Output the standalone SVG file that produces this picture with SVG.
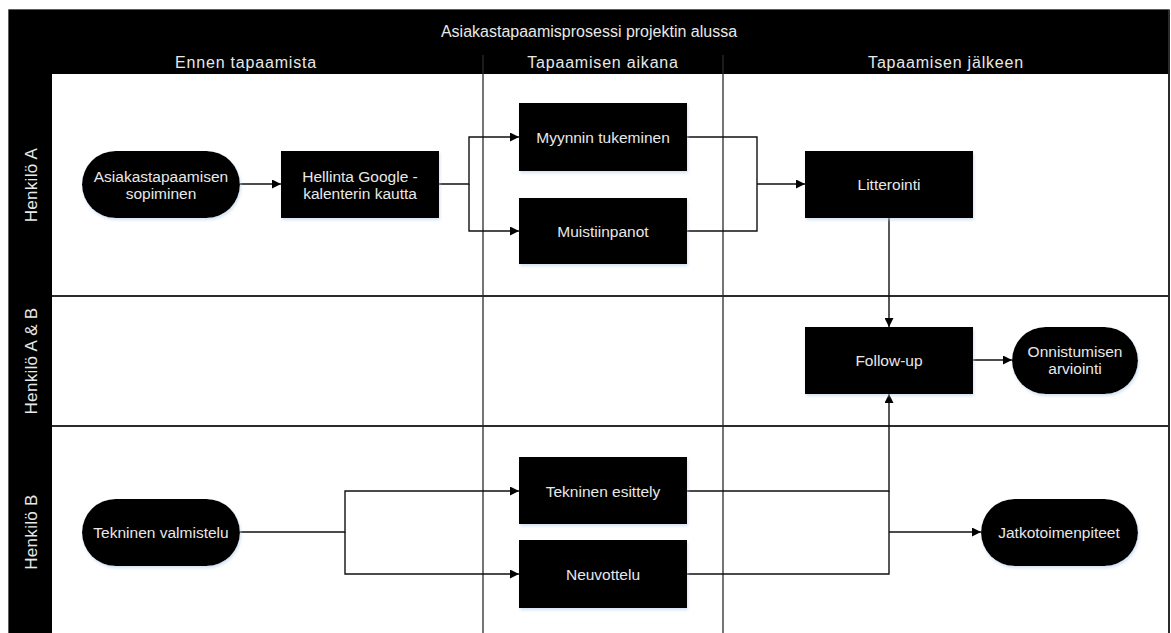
<svg xmlns="http://www.w3.org/2000/svg" width="1171" height="633" viewBox="0 0 1171 633">
  <style>
    .lbl { font-family: "Liberation Sans", Arial, sans-serif; font-size: 15.5px; fill: #e8e8e8; text-anchor: middle; }
    .title { font-size: 16px; }
    .col { font-size: 16px; letter-spacing: 0.8px; }
    .side { font-size: 17px; letter-spacing: 0.3px; }
    .node { fill: #000000; filter: url(#glow); }
    .grid { stroke: #2b2b2b; stroke-width: 1.3; fill: none; }
    .lane { stroke: #2b2b2b; stroke-width: 2; fill: none; }
    .conn { stroke: #111111; stroke-width: 1.4; fill: none; }
  </style>
  <defs>
    <marker id="arrow" viewBox="0 0 10 10" refX="10" refY="5" markerWidth="10" markerHeight="9" markerUnits="userSpaceOnUse" orient="auto">
      <path d="M0,0 L10,5 L0,10 z" fill="#000000"/>
    </marker>
    <filter id="glow" x="-10%" y="-10%" width="125%" height="130%">
      <feDropShadow dx="1" dy="2" stdDeviation="1.5" flood-color="#b8cfe8" flood-opacity="0.6"/>
    </filter>
  </defs>

  <!-- pool frame with phase header and lane bands -->
  <g id="pool">
    <rect x="9" y="10" width="1160" height="640" fill="#ffffff" stroke="#2b2b2b" stroke-width="1.5"/>
    <rect x="9" y="10" width="1160" height="64" fill="#000000"/>
    <rect x="9" y="74" width="43" height="560" fill="#000000"/>
    <line class="grid" x1="483" y1="55" x2="483" y2="633"/>
    <line class="grid" x1="723" y1="55" x2="723" y2="633"/>
    <line class="lane" x1="52" y1="296" x2="1169" y2="296"/>
    <line class="lane" x1="52" y1="426" x2="1169" y2="426"/>
    <line x1="1169" y1="10" x2="1169" y2="633" stroke="#2b2b2b" stroke-width="2"/>
    <text class="lbl title" x="589" y="37">Asiakastapaamisprosessi projektin alussa</text>
    <text class="lbl col" x="246" y="68">Ennen tapaamista</text>
    <text class="lbl col" x="603" y="68">Tapaamisen aikana</text>
    <text class="lbl col" x="946" y="68">Tapaamisen jälkeen</text>
    <text class="lbl side" transform="translate(36.5,185) rotate(-90)">Henkilö A</text>
    <text class="lbl side" transform="translate(36.5,361) rotate(-90)">Henkilö A &amp; B</text>
    <text class="lbl side" transform="translate(36.5,532) rotate(-90)">Henkilö B</text>
  </g>

  <!-- connectors -->
  <g id="connectors">
    <line class="conn" x1="240" y1="184" x2="281" y2="184" marker-end="url(#arrow)"/>
    <polyline class="conn" points="439,184 469,184 469,137 519,137" marker-end="url(#arrow)"/>
    <polyline class="conn" points="469,184 469,231 519,231" marker-end="url(#arrow)"/>
    <polyline class="conn" points="687,137 757,137 757,231 687,231"/>
    <line class="conn" x1="757" y1="184" x2="805" y2="184" marker-end="url(#arrow)"/>
    <line class="conn" x1="889" y1="218" x2="889" y2="327" marker-end="url(#arrow)"/>
    <line class="conn" x1="973" y1="360" x2="1012" y2="360" marker-end="url(#arrow)"/>
    <polyline class="conn" points="240,532 345,532 345,491 519,491" marker-end="url(#arrow)"/>
    <polyline class="conn" points="345,532 345,574 519,574" marker-end="url(#arrow)"/>
    <polyline class="conn" points="687,491 889,491 889,394" marker-end="url(#arrow)"/>
    <polyline class="conn" points="687,574 889,574 889,491"/>
    <line class="conn" x1="889" y1="532" x2="981" y2="532" marker-end="url(#arrow)"/>
  </g>

  <!-- nodes -->
  <g id="n-sopiminen">
    <rect class="node" x="82" y="151" width="158" height="67" rx="33.5"/>
    <text class="lbl" x="161" y="182">Asiakastapaamisen</text>
    <text class="lbl" x="161" y="199">sopiminen</text>
  </g>
  <g id="n-hellinta">
    <rect class="node" x="281" y="151" width="158" height="67"/>
    <text class="lbl" x="360" y="182">Hellinta Google -</text>
    <text class="lbl" x="360" y="199">kalenterin kautta</text>
  </g>
  <g id="n-myynti">
    <rect class="node" x="519" y="103" width="168" height="68"/>
    <text class="lbl" x="603" y="142.5">Myynnin tukeminen</text>
  </g>
  <g id="n-muistiinpanot">
    <rect class="node" x="519" y="198" width="168" height="66"/>
    <text class="lbl" x="603" y="236.5">Muistiinpanot</text>
  </g>
  <g id="n-litterointi">
    <rect class="node" x="805" y="151" width="168" height="67"/>
    <text class="lbl" x="889" y="189.5">Litterointi</text>
  </g>
  <g id="n-followup">
    <rect class="node" x="805" y="327" width="168" height="67"/>
    <text class="lbl" x="889" y="365.5">Follow-up</text>
  </g>
  <g id="n-onnistuminen">
    <rect class="node" x="1012" y="327" width="126" height="67" rx="33.5"/>
    <text class="lbl" x="1075" y="357">Onnistumisen</text>
    <text class="lbl" x="1075" y="374">arviointi</text>
  </g>
  <g id="n-valmistelu">
    <rect class="node" x="82" y="499" width="158" height="67" rx="33.5"/>
    <text class="lbl" x="161" y="537.5">Tekninen valmistelu</text>
  </g>
  <g id="n-esittely">
    <rect class="node" x="519" y="457" width="168" height="67"/>
    <text class="lbl" x="603" y="496.5">Tekninen esittely</text>
  </g>
  <g id="n-neuvottelu">
    <rect class="node" x="519" y="540" width="168" height="68"/>
    <text class="lbl" x="603" y="579.5">Neuvottelu</text>
  </g>
  <g id="n-jatko">
    <rect class="node" x="981" y="499" width="157" height="67" rx="33.5"/>
    <text class="lbl" x="1059" y="537.5">Jatkotoimenpiteet</text>
  </g>
</svg>
